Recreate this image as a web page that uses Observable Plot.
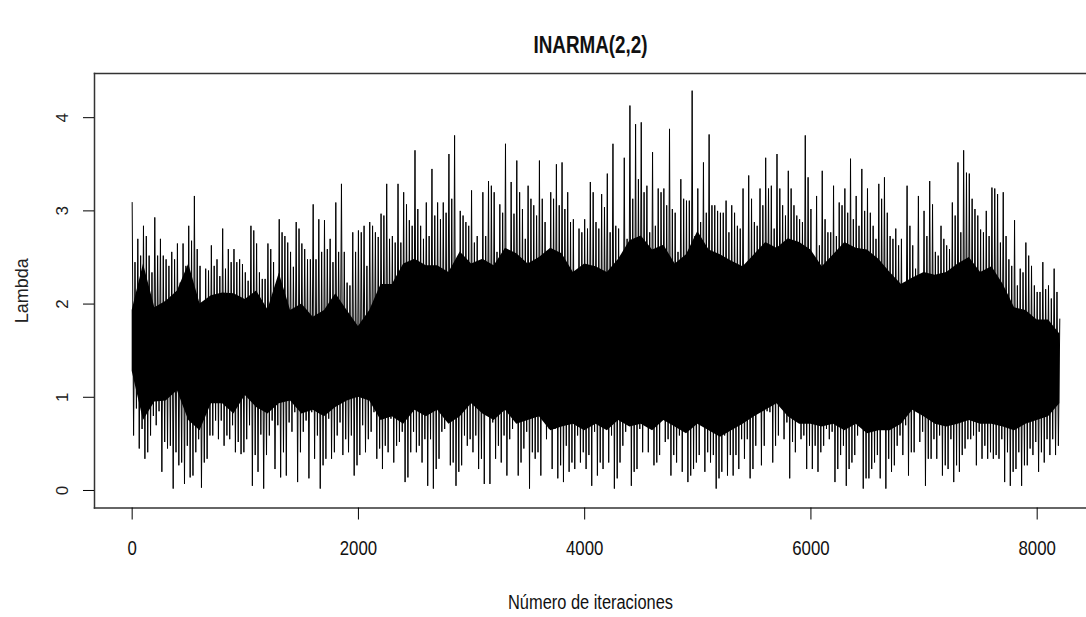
<!DOCTYPE html>
<html><head><meta charset="utf-8">
<script src="https://cdn.jsdelivr.net/npm/d3@7"></script>
<script src="https://cdn.jsdelivr.net/npm/@observablehq/plot@0.6"></script>
<style>
body{margin:0;background:#fff;}
#chart svg{display:block;}
</style></head><body><div id="chart"></div>
<script>
const chartTitle = "INARMA(2,2)";
const xLabel = "Número de iteraciones";
const yLabel = "Lambda";
const xTicks = [0, 2000, 4000, 6000, 8000];
const yTicks = [0, 1, 2, 3, 4];

// highest upward excursion in each 50-iteration stretch
const peakIter = d3.range(0, 8201, 50);
const peakLambda = [
  3.09,2.70,2.84,2.52,2.93,2.70,2.48,2.56,2.65,2.65,2.84,3.16,2.41,2.38,2.63,2.48,2.81,2.59,2.59,2.48,
  2.34,2.84,2.65,2.27,2.65,2.45,2.91,2.73,2.56,2.88,2.65,2.48,3.07,2.91,2.90,2.70,3.09,3.29,2.23,2.77,
  2.79,2.84,2.88,2.77,2.97,3.29,2.73,3.29,3.20,2.90,3.65,2.84,3.09,3.45,3.09,3.09,3.61,3.81,3.00,2.88,
  3.22,2.73,3.20,3.32,3.20,3.07,3.72,3.31,3.54,3.02,3.27,3.06,3.54,2.88,3.20,3.50,3.52,3.20,2.91,2.81,
  2.91,3.31,2.88,3.18,3.40,3.72,2.81,3.57,4.13,3.93,3.95,3.27,3.63,3.24,3.24,3.88,2.98,3.34,3.11,4.29,
  3.24,3.52,3.82,3.06,2.98,3.11,3.06,2.84,3.24,3.38,2.88,3.24,3.57,3.27,3.61,3.06,3.43,3.06,2.91,3.81,
  3.02,3.16,3.43,2.77,3.27,3.09,3.24,3.56,3.16,3.45,3.24,2.84,3.29,3.36,2.73,2.81,2.70,3.27,2.63,3.16,
  3.00,3.32,2.56,2.84,2.63,3.09,3.52,3.65,3.40,3.02,2.80,3.00,3.25,3.18,3.20,2.48,2.90,2.38,2.66,2.41,
  2.13,2.45,2.20,2.38,1.84
];
// deepest downward excursion in each stretch
const troughIter = d3.range(12.5, 8200, 50);
const troughLambda = [
  0.59,0.45,0.34,0.59,0.70,0.20,0.45,0.02,0.27,0.07,0.14,0.41,0.03,0.34,0.59,0.55,0.48,0.55,0.41,0.39,
  0.55,0.05,0.20,0.02,0.59,0.23,0.14,0.16,0.63,0.09,0.63,0.13,0.34,0.02,0.34,0.34,0.59,0.38,0.41,0.16,
  0.38,0.41,0.63,0.34,0.23,0.41,0.30,0.52,0.09,0.41,0.41,0.30,0.05,0.02,0.34,0.66,0.27,0.05,0.27,0.48,
  0.41,0.23,0.07,0.07,0.34,0.30,0.16,0.66,0.16,0.45,0.02,0.34,0.16,0.55,0.23,0.13,0.09,0.20,0.23,0.30,
  0.23,0.05,0.16,0.23,0.30,0.02,0.30,0.63,0.05,0.23,0.41,0.41,0.27,0.38,0.52,0.16,0.30,0.20,0.09,0.23,
  0.38,0.20,0.30,0.02,0.20,0.16,0.16,0.23,0.34,0.13,0.48,0.27,0.85,0.30,0.59,0.55,0.13,0.41,0.55,0.23,
  0.23,0.20,0.48,0.55,0.09,0.38,0.05,0.30,0.59,0.02,0.13,0.30,0.13,0.02,0.20,0.48,0.38,0.16,0.41,0.52,
  0.05,0.34,0.34,0.16,0.23,0.09,0.20,0.45,0.55,0.27,0.34,0.34,0.34,0.34,0.09,0.05,0.23,0.05,0.27,0.38,
  0.20,0.30,0.38,0.38
];
// second-highest upward excursion in each stretch
const peak2Iter = d3.range(25, 8200, 50);
const peak2Lambda = [
  2.45,2.52,2.73,2.34,2.52,2.52,2.41,2.48,2.23,2.41,2.68,2.59,2.02,2.36,2.41,2.30,2.38,2.45,2.45,2.43,
  2.25,2.79,2.34,2.27,2.59,2.13,2.77,2.66,2.40,2.81,2.59,2.48,2.48,2.56,2.59,2.45,2.56,2.56,2.20,2.56,
  2.77,2.41,2.84,2.72,2.95,2.70,2.66,2.66,3.07,2.84,3.02,2.70,2.73,2.95,2.91,2.98,3.13,2.27,2.95,2.84,
  2.66,2.41,2.73,3.27,2.56,2.98,2.48,2.97,3.20,2.70,3.13,2.95,3.13,2.34,3.13,3.06,3.02,2.88,2.20,2.77,
  2.81,3.20,2.81,3.04,2.77,2.84,2.38,2.70,3.13,3.34,3.20,2.77,2.84,3.20,3.06,3.02,2.56,3.13,3.11,2.73,
  2.88,2.98,3.06,3.00,2.98,2.77,2.98,2.81,2.41,3.13,2.84,3.06,3.24,2.81,3.24,2.95,3.24,2.95,2.88,3.36,
  2.48,2.63,2.91,2.77,2.73,3.06,2.98,2.91,2.84,3.00,2.98,2.70,3.13,2.98,2.70,2.63,2.23,2.84,2.38,2.20,
  2.73,3.07,2.52,2.70,2.59,2.95,2.77,3.41,3.13,2.95,2.77,2.73,3.24,2.66,2.73,2.41,2.20,2.34,2.52,2.20,
  2.13,2.16,2.06,2.13
];
// second-deepest downward excursion in each stretch
const trough2Iter = d3.range(37.5, 8200, 50);
const trough2Lambda = [
  0.88,0.66,0.41,0.80,0.85,0.52,0.48,0.41,0.30,0.48,0.16,0.55,0.30,0.59,0.75,0.75,0.59,0.70,0.52,0.41,
  0.70,0.38,0.60,0.38,0.75,0.70,0.41,0.73,0.84,0.41,0.75,0.84,0.59,0.27,0.77,0.41,0.73,0.55,0.59,0.27,
  0.70,0.55,0.84,0.45,0.48,0.77,0.48,0.63,0.14,0.63,0.48,0.55,0.55,0.23,0.63,0.77,0.30,0.20,0.59,0.55,
  0.59,0.34,0.90,0.73,0.48,0.59,0.55,0.90,0.30,0.63,0.41,0.41,0.90,0.66,0.66,0.27,0.48,0.30,0.59,0.41,
  0.38,0.63,0.30,0.80,0.59,0.13,0.48,0.70,0.20,0.66,0.84,0.73,0.30,0.84,0.55,0.38,0.59,0.63,0.16,0.30,
  0.77,0.41,0.38,0.13,0.59,0.38,0.38,0.55,0.55,0.23,0.90,0.48,0.84,0.48,0.90,0.73,0.52,0.77,0.59,0.48,
  0.48,0.41,0.66,0.63,0.23,0.48,0.23,0.38,0.88,0.13,0.23,0.38,0.66,0.34,0.27,0.59,0.70,0.41,0.85,0.63,
  0.34,0.55,0.59,0.27,0.55,0.27,0.38,0.55,0.59,0.63,0.48,0.41,0.38,0.55,0.41,0.20,0.41,0.27,0.45,0.52,
  0.41,0.55,0.55,0.48
];
// edges of the solid, fully inked band of the trace (every 100 iterations)
const coreIter = d3.range(0, 8201, 100);
const coreHi = [
  1.93,2.43,1.96,2.03,2.14,2.43,2.00,2.09,2.12,2.11,2.05,2.14,1.94,2.33,1.93,2.00,1.86,1.93,2.11,1.93,
  1.76,1.93,2.21,2.21,2.43,2.48,2.41,2.41,2.34,2.56,2.43,2.48,2.41,2.60,2.54,2.43,2.50,2.60,2.54,2.34,
  2.43,2.40,2.34,2.48,2.68,2.73,2.58,2.63,2.43,2.53,2.78,2.58,2.53,2.46,2.40,2.53,2.66,2.60,2.70,2.66,
  2.58,2.40,2.53,2.66,2.60,2.58,2.48,2.34,2.21,2.28,2.34,2.31,2.34,2.43,2.50,2.34,2.40,2.21,1.96,1.93,
  1.83,1.83,1.68
];
const coreLo = [
  1.28,0.75,0.95,0.96,1.07,0.75,0.64,0.93,0.93,0.82,1.02,0.89,0.82,0.93,0.96,0.82,0.86,0.79,0.89,0.96,
  1.00,0.96,0.75,0.79,0.71,0.86,0.79,0.86,0.71,0.79,0.93,0.82,0.75,0.86,0.71,0.75,0.79,0.64,0.68,0.71,
  0.64,0.71,0.64,0.75,0.68,0.71,0.64,0.75,0.68,0.61,0.71,0.64,0.57,0.64,0.71,0.79,0.86,0.93,0.79,0.71,
  0.71,0.68,0.71,0.64,0.71,0.61,0.64,0.64,0.71,0.86,0.79,0.71,0.68,0.71,0.75,0.71,0.71,0.68,0.64,0.71,
  0.75,0.79,0.93
];

const trace = [
  ...peakIter.map((it, i) => ({iter: it, lambda: peakLambda[i]})),
  ...troughIter.map((it, i) => ({iter: it, lambda: troughLambda[i]})),
  ...peak2Iter.map((it, i) => ({iter: it, lambda: peak2Lambda[i]})),
  ...trough2Iter.map((it, i) => ({iter: it, lambda: trough2Lambda[i]}))
].sort((a, b) => a.iter - b.iter);
const core = coreIter.map((it, i) => ({iter: it, lo: coreLo[i], hi: coreHi[i]}));

const font = "'Liberation Sans', Arial, sans-serif";
const plot = Plot.plot({
  width: 1086, height: 617,
  marginLeft: 94, marginRight: 0, marginTop: 73, marginBottom: 109.5,
  x: {domain: [-333, 8436]},
  y: {domain: [-0.188, 4.474]},
  style: {fontFamily: font, background: "#fff", color: "#000"},
  marks: [
    Plot.areaY(core, {x: "iter", y1: "lo", y2: "hi", fill: "#000"}),
    Plot.line(trace, {x: "iter", y: "lambda", stroke: "#000", strokeWidth: 1}),
    Plot.frame({anchor: "top", stroke: "#333", strokeWidth: 1.5}),
    Plot.frame({anchor: "left", stroke: "#333", strokeWidth: 1.5}),
    Plot.frame({anchor: "bottom", stroke: "#333", strokeWidth: 1.5}),
    Plot.axisX({ticks: xTicks, tickSize: 12, tickPadding: 20, label: null, tickFormat: d => String(d), fontSize: 21, fill: "#111"}),
    Plot.axisY({ticks: yTicks, tickSize: 11, tickFormat: () => "", label: null}),
    Plot.text(yTicks, {y: d => d, text: d => String(d), frameAnchor: "left", dx: -32, rotate: -90, textAnchor: "middle", lineAnchor: "middle", fontSize: 17, fill: "#222"}),
    Plot.text([yLabel], {text: d => d, frameAnchor: "left", dx: -72, rotate: -90, textAnchor: "middle", lineAnchor: "middle", fontSize: 18, fill: "#222"}),
    Plot.text([xLabel], {text: d => d, frameAnchor: "bottom", dy: 95, textAnchor: "middle", lineAnchor: "middle", fontSize: 20, fill: "#111"}),
    Plot.text([chartTitle], {text: d => d, frameAnchor: "top", dy: -28, textAnchor: "middle", lineAnchor: "middle", fontWeight: "bold", fontSize: 23, fill: "#111"})
  ]
});
document.getElementById("chart").append(plot);

// the reference draws its horizontal text in a condensed face: squeeze it
const squeeze = new Map([[chartTitle, 0.82], [xLabel, 0.82]]);
xTicks.forEach(t => squeeze.set(String(t), 0.8));
d3.select(plot).selectAll("text").each(function() {
  const f = squeeze.get(this.textContent);
  const tr = (this.getAttribute("transform") || "") + (this.parentNode.getAttribute("transform") || "");
  if (f && !tr.includes("rotate")) {
    const L = this.getComputedTextLength();
    this.setAttribute("textLength", L * f);
    this.setAttribute("lengthAdjust", "spacingAndGlyphs");
  }
});
</script>
</body></html>
